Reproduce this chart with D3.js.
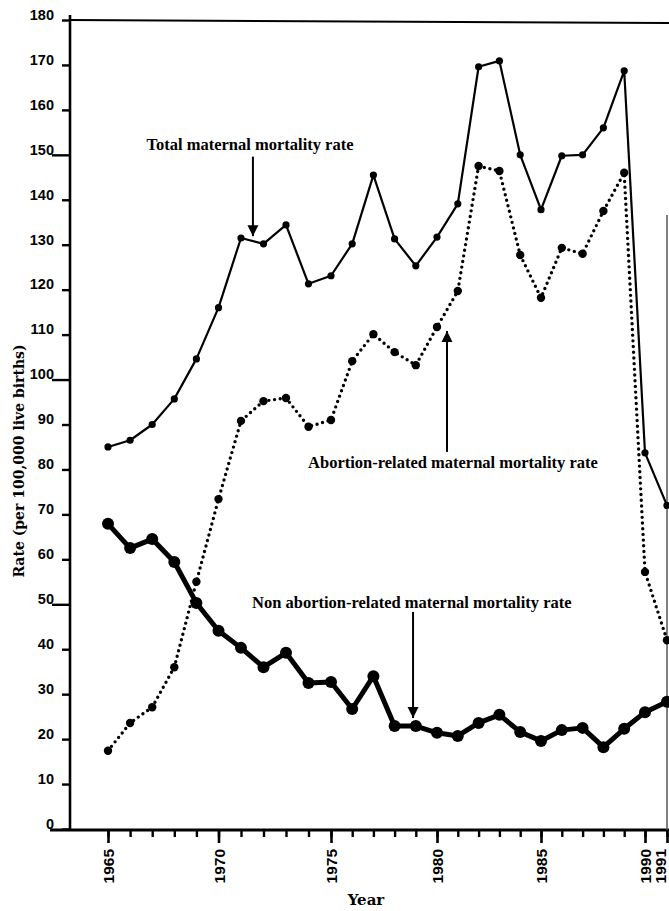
<!DOCTYPE html>
<html>
<head>
<meta charset="utf-8">
<script src="https://cdn.jsdelivr.net/npm/d3@7"></script>
<style>
  body { margin: 0; background: #fff; }
  svg { display: block; }
</style>
</head>
<body>
<div id="chart"></div>
<script>
// data (rate per 100,000 live births)
const years = [1965,1966,1967,1968,1969,1970,1971,1972,1973,1974,1975,1976,1977,1978,
               1979,1980,1981,1982,1983,1984,1985,1986,1987,1988,1989,1990,1991];
const totalRate = [85,86.5,90,95.7,104.6,116,131.5,130.2,134.4,121.3,123.1,130.2,145.5,131.3,
                   125.3,131.7,139.1,169.6,170.9,150,137.8,149.8,150,156,168.7,83.7,72];
const abortionRate = [17.4,23.6,27.1,36,55,73.4,90.8,95.2,95.9,89.5,91,104.1,110.1,106.1,
                      103.2,111.7,119.7,147.5,146.4,127.7,118.2,129.3,128,137.5,146,57.2,42];
const nonAbortionRate = [67.9,62.5,64.5,59.4,50.3,44.1,40.3,36,39.2,32.5,32.7,26.7,34,22.9,
                         22.9,21.4,20.7,23.6,25.4,21.6,19.6,22,22.5,18.2,22.3,26,28.3];
const yTicks = [0,10,20,30,40,50,60,70,80,90,100,110,120,130,140,150,160,170,180];
const xLabels = [1965,1970,1975,1980,1985,1990,1991];
const seriesLabels = ["Total maternal mortality rate",
                      "Abortion-related maternal mortality rate",
                      "Non abortion-related maternal mortality rate"];

const width = 669, height = 911;
const axisX = 70, axisY = 830;

const svg = d3.select('#chart').append('svg')
  .attr('width', width)
  .attr('height', height);

// the scanned axis is a bit uneven, so the year scale follows the labelled ticks
const x = d3.scaleLinear()
  .domain(xLabels)
  .range([108, 218.5, 331, 437, 541, 645, 667]);
const y = d3.scaleLinear()
  .domain([0, 180])
  .range([829, 20]);

const tickFont = '"Liberation Sans", Arial, sans-serif';
const serifFont = '"Liberation Serif", "Times New Roman", serif';

// frame lines
svg.append('line')
  .attr('x1', axisX).attr('y1', 15).attr('x2', axisX).attr('y2', axisY)
  .attr('stroke', '#000').attr('stroke-width', 2.6);
svg.append('line')
  .attr('x1', 50).attr('y1', axisY).attr('x2', width).attr('y2', axisY)
  .attr('stroke', '#000').attr('stroke-width', 3);
svg.append('line')
  .attr('x1', axisX).attr('y1', 20).attr('x2', width).attr('y2', 23)
  .attr('stroke', '#000').attr('stroke-width', 2);
svg.append('line')
  .attr('x1', x(1991)).attr('y1', 215).attr('x2', x(1991)).attr('y2', axisY)
  .attr('stroke', '#555').attr('stroke-width', 1.5);

// y axis
const yAxis = svg.append('g')
  .attr('transform', `translate(${axisX},0)`)
  .call(d3.axisLeft(y).tickValues(yTicks).tickSize(8).tickPadding(8));
yAxis.select('.domain').remove();
yAxis.selectAll('.tick line')
  .attr('stroke', '#000')
  .attr('stroke-width', 2.4)
  .attr('x2', d => d % 50 === 0 && d > 0 ? -18 : -8);
yAxis.selectAll('.tick text')
  .attr('x', -16)
  .attr('dy', '-0.05em')
  .style('font-family', tickFont)
  .style('font-weight', 'bold')
  .style('font-size', '14.5px')
  .style('fill', '#000');

// x axis: yearly minor ticks, labelled major ticks
const xMinor = svg.append('g')
  .attr('transform', `translate(0,${axisY})`)
  .call(d3.axisBottom(x).tickValues(years).tickSize(7).tickFormat(''));
xMinor.select('.domain').remove();
xMinor.selectAll('.tick line').attr('stroke', '#000').attr('stroke-width', 2.4);

const xMajor = svg.append('g')
  .attr('transform', `translate(0,${axisY})`)
  .call(d3.axisBottom(x).tickValues(xLabels).tickSize(13).tickFormat(d3.format('d')));
xMajor.select('.domain').remove();
xMajor.selectAll('.tick line').attr('stroke', '#000').attr('stroke-width', 2.6);
xMajor.selectAll('.tick text')
  .attr('transform', 'rotate(-90)')
  .attr('x', -19)
  .attr('y', d => d === 1991 ? -7 : 0)   // last label sits against the page edge
  .attr('dy', '0.36em')
  .attr('text-anchor', 'end')
  .style('font-family', tickFont)
  .style('font-weight', 'bold')
  .style('font-size', '15.5px')
  .style('fill', '#000');

// axis titles
svg.append('text')
  .attr('x', 366).attr('y', 905)
  .attr('text-anchor', 'middle')
  .style('font-family', '"DejaVu Serif", serif')
  .style('font-weight', 'bold')
  .style('font-size', '15px')
  .text('Year');
svg.append('text')
  .attr('transform', 'translate(19,461) rotate(-90)')
  .attr('text-anchor', 'middle')
  .attr('dominant-baseline', 'central')
  .style('font-family', '"DejaVu Serif", serif')
  .style('font-weight', 'bold')
  .style('font-size', '14px')
  .text('Rate (per 100,000 live births)');

// series
const line = d3.line()
  .x((d, i) => x(years[i]))
  .y(d => y(d));

// abortion-related: dotted
svg.append('path')
  .datum(abortionRate)
  .attr('d', line)
  .attr('fill', 'none')
  .attr('stroke', '#000')
  .attr('stroke-width', 3.4)
  .attr('stroke-linecap', 'round')
  .attr('stroke-dasharray', '0 5.7');
svg.append('g').selectAll('circle')
  .data(abortionRate)
  .enter()
  .append('circle')
  .attr('cx', (d, i) => x(years[i]))
  .attr('cy', d => y(d))
  .attr('r', 4.2)
  .attr('fill', '#000');

// total: thin solid
svg.append('path')
  .datum(totalRate)
  .attr('d', line)
  .attr('fill', 'none')
  .attr('stroke', '#000')
  .attr('stroke-width', 2.2)
  .attr('stroke-linejoin', 'round');
svg.append('g').selectAll('circle')
  .data(totalRate)
  .enter()
  .append('circle')
  .attr('cx', (d, i) => x(years[i]))
  .attr('cy', d => y(d))
  .attr('r', 3.6)
  .attr('fill', '#000');

// non abortion-related: heavy solid
svg.append('path')
  .datum(nonAbortionRate)
  .attr('d', line)
  .attr('fill', 'none')
  .attr('stroke', '#000')
  .attr('stroke-width', 5)
  .attr('stroke-linejoin', 'round');
svg.append('g').selectAll('circle')
  .data(nonAbortionRate)
  .enter()
  .append('circle')
  .attr('cx', (d, i) => x(years[i]))
  .attr('cy', d => y(d))
  .attr('r', 6)
  .attr('fill', '#000');

// annotations, placed in data units
svg.append('defs').append('marker')
  .attr('id', 'arrow')
  .attr('viewBox', '0 0 10 10')
  .attr('refX', 10).attr('refY', 5)
  .attr('markerUnits', 'userSpaceOnUse')
  .attr('markerWidth', 11).attr('markerHeight', 12)
  .attr('orient', 'auto')
  .append('path')
  .attr('d', 'M0,0L10,5L0,10Z')
  .attr('fill', '#000');

const notes = [
  { text: seriesLabels[0], tx: 1971.4, ty: 151.1, anchor: 'middle', ax: 1971.53, from: 149.6, to: 131.9 },
  { text: seriesLabels[1], tx: 1973.98, ty: 80.3, anchor: 'start', ax: 1980.48, from: 83.9, to: 110.8 },
  { text: seriesLabels[2], tx: 1971.49, ty: 49.2, anchor: 'start', ax: 1978.87, from: 48.3, to: 24.7 }
];

const note = svg.append('g').selectAll('g')
  .data(notes)
  .enter()
  .append('g');
note.append('text')
  .attr('x', d => x(d.tx))
  .attr('y', d => y(d.ty))
  .attr('text-anchor', d => d.anchor)
  .style('font-family', serifFont)
  .style('font-weight', 'bold')
  .style('font-size', '16.5px')
  .text(d => d.text);
note.append('line')
  .attr('x1', d => x(d.ax))
  .attr('x2', d => x(d.ax))
  .attr('y1', d => y(d.from))
  .attr('y2', d => y(d.to))
  .attr('stroke', '#000')
  .attr('stroke-width', 2)
  .attr('marker-end', 'url(#arrow)');
</script>
</body>
</html>
